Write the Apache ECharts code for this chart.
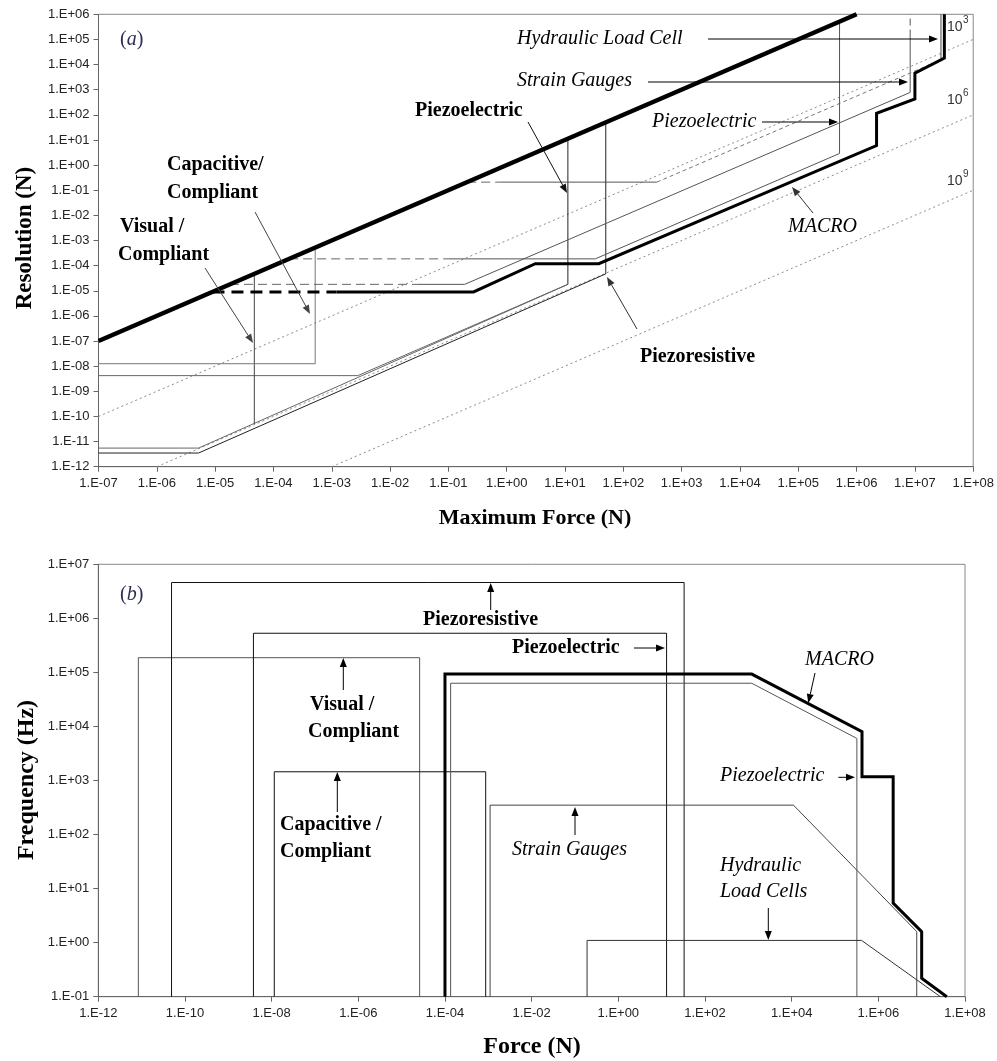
<!DOCTYPE html>
<html><head><meta charset="utf-8">
<script src="https://cdn.jsdelivr.net/npm/echarts@6/dist/echarts.min.js"></script>
<style>html,body{margin:0;padding:0;background:#fff}#c{width:997px;height:1061px}</style>
</head><body><div id="c"></div>
<script>
// ================= DATA: chart (a) Resolution vs Maximum Force =================
const forceTicksA = ['1.E-07','1.E-06','1.E-05','1.E-04','1.E-03','1.E-02','1.E-01','1.E+00','1.E+01','1.E+02','1.E+03','1.E+04','1.E+05','1.E+06','1.E+07','1.E+08'];
const resTicksA = ['1.E-12','1.E-11','1.E-10','1.E-09','1.E-08','1.E-07','1.E-06','1.E-05','1.E-04','1.E-03','1.E-02','1.E-01','1.E+00','1.E+01','1.E+02','1.E+03','1.E+04','1.E+05','1.E+06'];

const resEqualsForce = [[1e-7,1e-7],[1e6,1e6]];
const range1e3 = [[1e-7,1e-10],[1e8,1e5]];
const range1e6 = [[1e-6,1e-12],[1e8,1e2]];
const range1e9 = [[1e-3,1e-12],[1e8,1e-1]];

const macroResDashed = [[9e-6,9e-6],[1.2e-3,9e-6]];
const macroRes = [[1.2e-3,9e-6],[0.27,9e-6],[3.1,1.2e-4],[38,1.2e-4],[2.2e6,6],[2.2e6,115],[1e7,430],[1e7,4.5e3],[3.2e7,1.8e4],[3.2e7,1e6]];

const strainResDashed = [[1.8e-5,1.8e-5],[3e-2,1.8e-5]];
const strainRes = [[3e-2,1.8e-5],[0.19,1.8e-5],[8.3e6,780],[8.3e6,1.3e5]];
const strainResTopDashed = [[8.3e6,1.3e5],[8.3e6,1e6]];

const hydraulicResDashed = [[0.21,0.21],[0.8,0.21]];
const hydraulicRes = [[0.8,0.21],[376,0.21]];
const hydraulicResDiag = [[376,0.21],[2.8e7,1.55e4]];
const hydraulicResEdge = [[2.8e7,1.55e4],[2.8e7,1e6]];

const piezoElecItResDashed = [[1.86e-4,1.86e-4],[0.1,1.86e-4]];
const piezoElecItRes = [[0.1,1.86e-4],[33,1.86e-4],[5.1e5,2.9],[5.1e5,5.1e5]];

const piezoElecBoldEdge = [[11.2,11.2],[11.2,1.8e-5]];
const piezoElecBoldLow = [[1e-7,4.2e-9],[2.8e-3,4.2e-9],[11.2,1.8e-5]];
const visualResLow = [[1e-7,5.5e-12],[5.2e-6,5.5e-12],[11.2,1.8e-5]];
const visualResEdge = [[4.7e-5,4.7e-5],[4.7e-5,5.1e-11]];
const capacitiveRes = [[1e-7,1.25e-8],[5.2e-4,1.25e-8],[5.2e-4,5.2e-4]];
const piezoresistiveRes = [[1e-7,3.5e-12],[5.2e-6,3.5e-12],[50,4.7e-5],[50,50]];

// ================= DATA: chart (b) Frequency vs Force =================
const forceTicksB = ['1.E-12','1.E-10','1.E-08','1.E-06','1.E-04','1.E-02','1.E+00','1.E+02','1.E+04','1.E+06','1.E+08'];
const freqTicksB = ['1.E-01','1.E+00','1.E+01','1.E+02','1.E+03','1.E+04','1.E+05','1.E+06','1.E+07'];

const visualFreq = [[8.4e-12,0.1],[8.4e-12,1.87e5],[2.6e-5,1.87e5],[2.6e-5,0.1]];
const piezoresistiveFreq = [[4.9e-11,0.1],[4.9e-11,4.6e6],[33,4.6e6],[33,0.1]];
const piezoElecBoldFreq = [[3.8e-9,0.1],[3.8e-9,5.3e5],[13,5.3e5],[13,0.1]];
const capacitiveFreq = [[1.15e-8,0.1],[1.15e-8,1.45e3],[8.7e-4,1.45e3],[8.7e-4,0.1]];
const strainFreq = [[1.1e-3,0.1],[1.1e-3,350],[1.1e4,350],[7.7e6,1.6],[7.7e6,0.1]];
const piezoElecItFreq = [[1.35e-4,0.1],[1.35e-4,6.3e4],[1.2e3,6.3e4],[3.2e5,6e3],[3.2e5,0.1]];
const macroFreq = [[1e-4,0.1],[1e-4,9.3e4],[1.2e3,9.3e4],[4.2e5,8e3],[4.2e5,1.17e3],[2.2e6,1.17e3],[2.2e6,5.4],[1e7,1.6],[1e7,0.22],[3.8e7,0.1]];
const hydraulicFreq = [[0.19,0.1],[0.19,1.1],[4.1e5,1.1],[2.7e7,0.1]];

// ================= BUILD =================
const L = p => p.map(d => [Math.log10(d[0]), Math.log10(d[1])]);
function ser(data, grid, color, width, type) {
  return { type:'line', xAxisIndex:grid, yAxisIndex:grid, data:L(data), symbol:'none', showSymbol:false,
    silent:true, animation:false, clip:true, z:3,
    lineStyle:{ color:color, width:width, type:type||'solid', cap:'butt', join:'miter' } };
}
const dotted = [2,3];
const series = [
  ser(range1e3,0,'#8a8a8a',1,dotted), ser(range1e6,0,'#8a8a8a',1,dotted), ser(range1e9,0,'#8a8a8a',1,dotted),
  ser(piezoresistiveRes,0,'#222',1), ser(visualResLow,0,'#666',1), ser(piezoElecBoldLow,0,'#666',1),
  ser(visualResEdge,0,'#444',1), ser(capacitiveRes,0,'#777',1), ser(piezoElecBoldEdge,0,'#222',1),
  ser(strainResDashed,0,'#666',1,[9,5]), ser(strainRes,0,'#555',1), ser(strainResTopDashed,0,'#555',1,[7,4]),
  ser(hydraulicResDashed,0,'#666',1,[9,5]), ser(hydraulicRes,0,'#555',1), ser(hydraulicResDiag,0,'#777',1,[4,3]), ser(hydraulicResEdge,0,'#444',1),
  ser(piezoElecItResDashed,0,'#666',1,[9,5]), ser(piezoElecItRes,0,'#555',1),
  ser(macroResDashed,0,'#000',3,[12,7]), ser(macroRes,0,'#000',3),
  ser(resEqualsForce,0,'#000',4.5),
  ser(visualFreq,1,'#555',1), ser(piezoresistiveFreq,1,'#111',1), ser(piezoElecBoldFreq,1,'#111',1),
  ser(capacitiveFreq,1,'#111',1), ser(strainFreq,1,'#444',1), ser(piezoElecItFreq,1,'#555',1),
  ser(hydraulicFreq,1,'#333',1), ser(macroFreq,1,'#000',3)
];

function axis(grid, min, max, interval, labels, isY) {
  return { type:'value', gridIndex:grid, min:min, max:max, interval:interval,
    axisLine:{show:true, onZero:false, lineStyle:{color:'#666', width:1}},
    axisTick:{show:true, length:5, lineStyle:{color:'#666'}},
    axisLabel:{ color:'#222', fontSize:13, fontFamily:'Liberation Sans', margin:isY?9:10,
      formatter: v => labels[Math.round((v-min)/interval)] || '' },
    splitLine:{show:false} };
}

// ================= ANNOTATIONS =================
const SERIF = 'Liberation Serif';
const texts = [
  // chart (a)
  ['Piezoelectric',415,111,'bold'], ['Capacitive/',167,165,'bold'], ['Compliant',167,193,'bold'],
  ['Visual /',120,227,'bold'], ['Compliant',118,255,'bold'],
  ['Hydraulic Load Cell',517,39,'italic'], ['Strain Gauges',517,81,'italic'],
  ['Piezoelectric',652,122,'italic'], ['MACRO',788,227,'italic'], ['Piezoresistive',640,357,'bold'],
  // chart (b)
  ['Piezoresistive',423,620,'bold'], ['Piezoelectric',512,648,'bold'],
  ['Visual /',310,705,'bold'], ['Compliant',308,732,'bold'],
  ['Capacitive /',280,825,'bold'], ['Compliant',280,852,'bold'],
  ['Strain Gauges',512,850,'italic'], ['Hydraulic',720,866,'italic'], ['Load Cells',720,892,'italic'],
  ['MACRO',805,660,'italic'], ['Piezoelectric',720,776,'italic']
];
const arrows = [
  [255,212,310,314,'#444'], [205,268,253,343,'#444'], [528,122,567,193,'#111'],
  [708,39,938,39,'#000'], [648,82,908,82,'#000'], [762,122,838,122,'#000'],
  [813,213,792,187,'#333'], [637,329,607,277,'#333'],
  [490.7,610,490.7,583,'#000'], [634,648,665,648,'#000'], [343.3,690,343.3,658,'#000'],
  [337.3,812,337.3,772,'#000'], [575,835,575,807,'#000'], [768.3,908,768.3,940,'#000'],
  [815,673,808.3,703,'#000'], [838.3,777.3,855,777.3,'#000']
];
const graphics = [];
texts.forEach(t => {
  graphics.push({ type:'text', x:t[1], y:t[2], silent:true, z:10,
    style:{ text:t[0], fill:'#000', font:(t[3]==='bold'?'bold ':'italic ')+'20px "'+SERIF+'"',
      textAlign:'left', textVerticalAlign:'middle' } });
});
arrows.forEach(a => {
  const [x1,y1,x2,y2,c] = a;
  const ang = Math.atan2(y2-y1, x2-x1), Lh = 9, Wh = 3.5;
  const bx = x2 - Lh*Math.cos(ang), by = y2 - Lh*Math.sin(ang);
  graphics.push({ type:'line', silent:true, z:10, shape:{x1:x1,y1:y1,x2:bx,y2:by}, style:{stroke:c, lineWidth:1} });
  graphics.push({ type:'polygon', silent:true, z:10,
    shape:{points:[[x2,y2],[bx - Wh*Math.sin(ang), by + Wh*Math.cos(ang)],[bx + Wh*Math.sin(ang), by - Wh*Math.cos(ang)]]},
    style:{fill:c} });
});
// ratio labels 10^3, 10^6, 10^9
[['3',27],['6',100],['9',181]].forEach(r => {
  graphics.push({ type:'text', x:947, y:r[1], silent:true, z:10,
    style:{text:'10', fill:'#333', font:'14px "Liberation Sans"', textAlign:'left', textVerticalAlign:'middle'} });
  graphics.push({ type:'text', x:963, y:r[1]-7, silent:true, z:10,
    style:{text:r[0], fill:'#333', font:'10px "Liberation Sans"', textAlign:'left', textVerticalAlign:'middle'} });
});
// panel letters
[['a',40],['b',595]].forEach(p => {
  graphics.push({ type:'text', x:120, y:p[1], silent:true, z:10,
    style:{ text:'{n|(}{i|'+p[0]+'}{n|)}', textVerticalAlign:'middle', textAlign:'left',
      rich:{ n:{fontFamily:SERIF, fontSize:20, fill:'#2e2e55', fontStyle:'normal'},
             i:{fontFamily:SERIF, fontSize:20, fill:'#2e2e55', fontStyle:'italic'} } } });
});
// axis titles
const titles = [
  ['Resolution (N)',25,238,Math.PI/2,23], ['Maximum Force (N)',535,518,0,22],
  ['Frequency (Hz)',27,780,Math.PI/2,24], ['Force (N)',532,1047,0,24]
];
titles.forEach(t => {
  graphics.push({ type:'text', x:t[1], y:t[2], rotation:t[3], silent:true, z:10,
    style:{ text:t[0], fill:'#000', font:'bold '+t[4]+'px "'+SERIF+'"', textAlign:'center', textVerticalAlign:'middle' } });
});

const chart = echarts.init(document.getElementById('c'), null, {renderer:'canvas', width:997, height:1061});
chart.setOption({
  backgroundColor:'#fff',
  animation:false,
  grid:[
    {left:98.5, top:14.3, width:874.8, height:452.4, show:true, borderColor:'#888', borderWidth:1, containLabel:false},
    {left:98.3, top:564.3, width:866.7, height:432.4, show:true, borderColor:'#888', borderWidth:1, containLabel:false}
  ],
  xAxis:[ axis(0,-7,8,1,forceTicksA,false), axis(1,-12,8,2,forceTicksB,false) ],
  yAxis:[ axis(0,-12,6,1,resTicksA,true), axis(1,-1,7,1,freqTicksB,true) ],
  series: series,
  graphic: graphics
});
</script></body></html>
